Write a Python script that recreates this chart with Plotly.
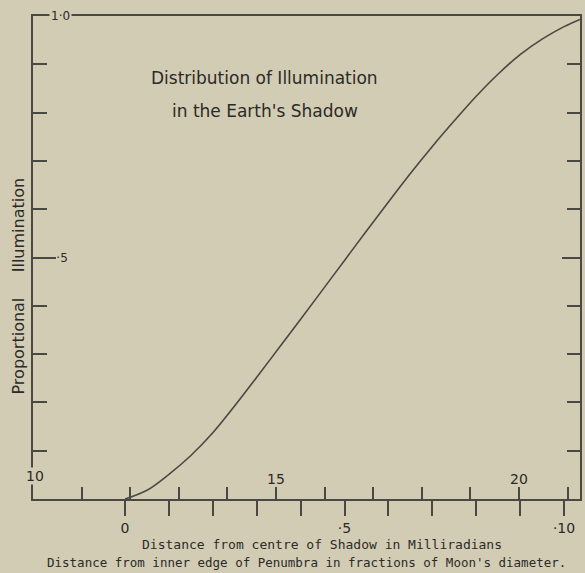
import plotly.graph_objects as go

# Curve: distance from inner edge of penumbra
# (fraction of Moon's diameter) vs proportional illumination
frac = [0.0, 0.05, 0.10, 0.15, 0.20, 0.25, 0.30, 0.35, 0.40, 0.45, 0.50, 0.55,
        0.60, 0.65, 0.70, 0.75, 0.80, 0.85, 0.90, 0.95, 1.00, 1.036]
illum = [0.0, 0.018, 0.051, 0.090, 0.137, 0.193, 0.252, 0.312, 0.372, 0.433, 0.494, 0.555,
         0.615, 0.674, 0.730, 0.783, 0.834, 0.880, 0.920, 0.952, 0.978, 0.993]

# lower scale: fractions of Moon's diameter
frac_ticks = [0.0, 0.1, 0.2, 0.3, 0.4, 0.5, 0.6, 0.7, 0.8, 0.9, 1.0]
frac_labels = ["0", "", "", "", "", "·5", "", "", "", "", "·10"]
frac_range = [-0.2096, 1.0364]

# upper scale: milliradians from centre of shadow
mrad_ticks = [10, 11, 12, 13, 14, 15, 16, 17, 18, 19, 20, 21]
mrad_labels = ["", "", "", "", "", "15", "", "", "", "", "20", ""]
mrad_range = [10, 21.255]

# y scale
y_major = [0.5]
y_major_labels = ["·5"]

BG = "#d3ccb4"
INK = "#4a4842"
TXT = "#2b2a27"
FONT = "DejaVu Sans"
MONO = "DejaVu Sans Mono"

fig = go.Figure()
fig.add_trace(go.Scatter(x=frac, y=illum, mode="lines",
                         line=dict(color=INK, width=1.6, shape="spline", smoothing=1.0),
                         hoverinfo="skip", showlegend=False))

fig.update_layout(
    width=585, height=573,
    margin=dict(l=33, r=5, t=16, b=74),
    paper_bgcolor=BG, plot_bgcolor=BG,
    font=dict(family=FONT, color=TXT, size=14),
    xaxis=dict(range=frac_range, tickmode="array", tickvals=frac_ticks, ticktext=frac_labels,
               ticks="outside", ticklen=15, tickwidth=1.5, tickcolor=INK,
               showline=True, linecolor=INK, linewidth=1.5, mirror=True,
               showgrid=False, zeroline=False, tickfont=dict(size=14, color=TXT)),
    xaxis2=dict(range=mrad_range, overlaying="x", anchor="y", side="bottom",
                tickmode="array", tickvals=mrad_ticks, ticktext=mrad_labels,
                ticks="inside", ticklen=12, tickwidth=1.5, tickcolor=INK,
                ticklabelposition="inside", showline=False, showgrid=False, zeroline=False,
                tickfont=dict(size=14, color=TXT)),
    yaxis=dict(range=[0, 1], tickmode="array", tickvals=y_major, ticktext=y_major_labels,
               ticks="inside", ticklen=23, tickwidth=1.5, tickcolor=INK,
               ticklabelposition="inside",
               minor=dict(dtick=0.1, ticks="inside", ticklen=14, tickwidth=1.5, tickcolor=INK),
               showline=True, linecolor=INK, linewidth=1.5, mirror=False,
               showgrid=False, zeroline=False, tickfont=dict(size=12, color=TXT)),
    yaxis2=dict(range=[0, 1], overlaying="y", anchor="x", side="right",
                tickmode="array", tickvals=y_major, showticklabels=False,
                ticks="inside", ticklen=18, tickwidth=1.5, tickcolor=INK,
                minor=dict(dtick=0.1, ticks="inside", ticklen=13, tickwidth=1.5, tickcolor=INK),
                showline=True, linecolor=INK, linewidth=1.5,
                showgrid=False, zeroline=False),
)

# invisible trace to activate the secondary axes
fig.add_trace(go.Scatter(x=[mrad_range[0]], y=[0], xaxis="x2", yaxis="y2", mode="markers",
                         marker=dict(size=0.1, color=BG, opacity=0), hoverinfo="skip", showlegend=False))

annotations = [
    dict(text="1·0", xref="x", yref="y", x=-0.147, y=1.0, showarrow=False,
         xanchor="center", yanchor="middle",
         font=dict(size=12, color=TXT), bgcolor=BG, borderpad=1),
    dict(text="10", xref="x2", yref="y", x=10.05, y=0.048, showarrow=False,
         xanchor="center", yanchor="middle",
         font=dict(size=14, color=TXT), bgcolor=BG, borderpad=0),
    dict(text="Distribution of Illumination", xref="paper", yref="paper", x=0.424, y=0.8716,
         xanchor="center", yanchor="middle", showarrow=False, font=dict(size=17, color=TXT)),
    dict(text="in the Earth's Shadow", xref="paper", yref="paper", x=0.424, y=0.803,
         xanchor="center", yanchor="middle", showarrow=False, font=dict(size=17, color=TXT)),
    dict(text="Proportional\u00a0\u00a0\u00a0\u00a0\u00a0Illumination", xref="paper", yref="paper",
         x=-0.0274, y=0.44, textangle=-90, xanchor="center", yanchor="middle",
         showarrow=False, font=dict(size=16, color=TXT)),
    dict(text="Distance from centre of Shadow in Milliradians", xref="paper", yref="paper",
         x=0.528, y=-0.0932, xanchor="center", yanchor="middle",
         showarrow=False, font=dict(family=MONO, size=13, color=TXT)),
    dict(text="Distance from inner edge of Penumbra in fractions of Moon's diameter.", xref="paper",
         yref="paper", x=0.5, y=-0.1325, xanchor="center", yanchor="middle",
         showarrow=False, font=dict(family=MONO, size=12.5, color=TXT)),
]
fig.update_layout(annotations=annotations)

fig.write_html("out.html", config={"displayModeBar": False},
               post_script="document.body.style.margin='0px';document.body.style.background='#d3ccb4';")
